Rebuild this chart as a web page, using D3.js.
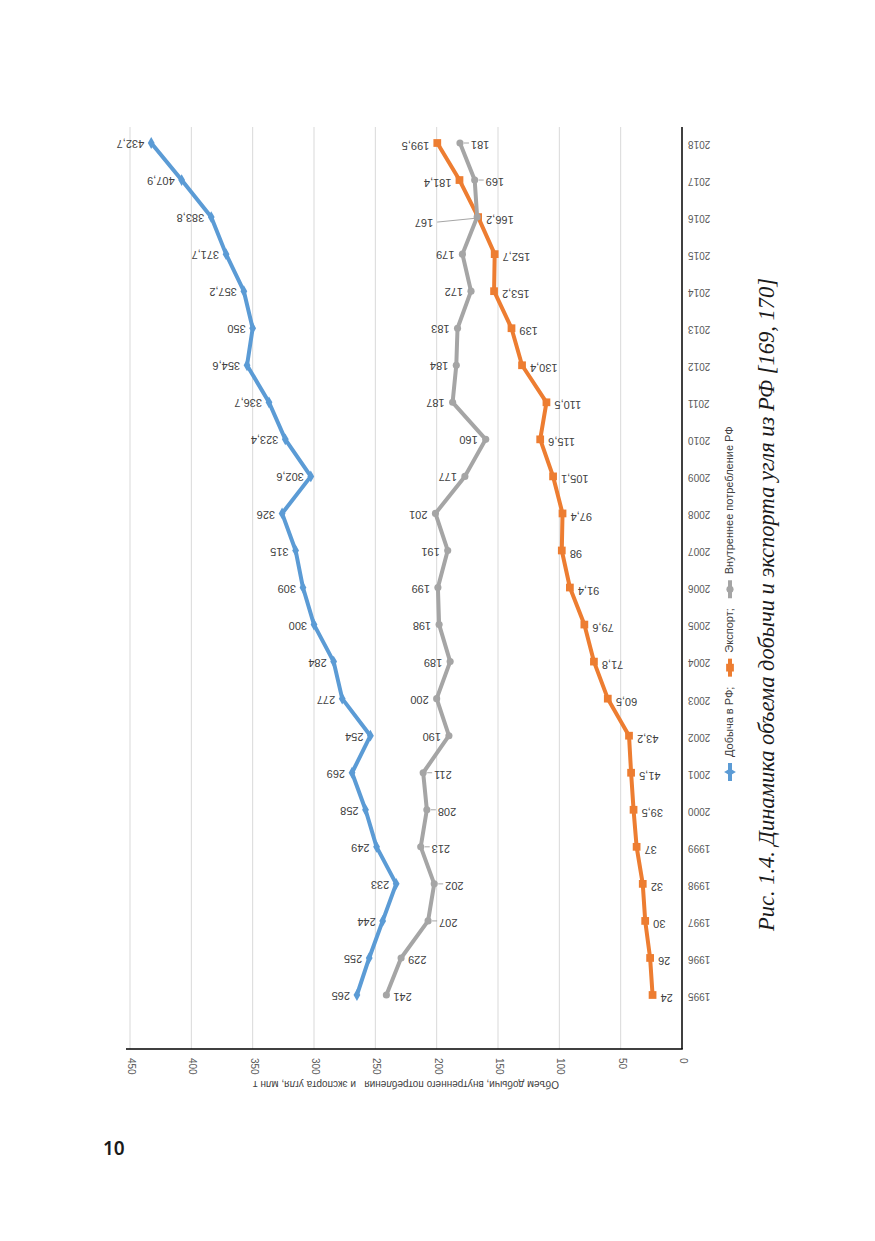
<!DOCTYPE html>
<html>
<head>
<meta charset="utf-8">
<script src="https://cdn.jsdelivr.net/npm/d3@7"></script>
<style>
  body { margin: 0; background: #fff; }
  svg { display: block; }
</style>
</head>
<body>
<div id="chart"></div>
<script>
// values (млн т)
const years = d3.range(1995, 2019);
const production = [265, 255, 244, 233, 249, 258, 269, 254, 277, 284, 300, 309, 315, 326, 302.6, 323.4, 336.7, 354.6, 350, 357.2, 371.7, 383.8, 407.9, 432.7];
const exportVals = [24, 26, 30, 32, 37, 39.5, 41.5, 43.2, 60.5, 71.8, 79.6, 91.4, 98, 97.4, 105.1, 115.6, 110.5, 130.4, 139, 153.2, 152.7, 166.2, 181.4, 199.5];
const domestic = [241, 229, 207, 202, 213, 208, 211, 190, 200, 189, 198, 199, 191, 201, 177, 160, 187, 184, 183, 172, 179, 167, 169, 181];
const valueTicks = [0, 50, 100, 150, 200, 250, 300, 350, 400, 450];

const seriesNames = ["Добыча в РФ;", "Экспорт;", "Внутреннее потребление РФ"];
const axisTitle = "Объем добычи, внутреннего потребления   и экспорта угля, млн т";
const caption = "Рис. 1.4. Динамика объема добычи и экспорта угля из РФ [169, 170]";

// label placement (which side of the point, in the rotated picture)
const exportLeftYears = [2017, 2018];
const domesticRightYears = [1995, 1996, 1997, 1998, 1999, 2000, 2001, 2017, 2018];
const domesticFarYear = 2016;

const W = 875, H = 1241;
const svg = d3.select("#chart").append("svg")
  .attr("width", W).attr("height", H)
  .style("font-family", "'Liberation Sans', Arial, sans-serif");

svg.append("rect").attr("width", W).attr("height", H).attr("fill", "#fff");

// the chart is printed turned a quarter turn: values run right -> left, years bottom -> top
const plot = { left: 130, right: 682, top: 127, bottom: 1049 };
const x = d3.scaleLinear().domain([0, 450]).range([plot.right, plot.left]);
const y = d3.scalePoint().domain(years).range([995, 143]);

const fmt = v => String(v).replace(".", ",");

// grid
svg.append("g").selectAll("line")
  .data(valueTicks.filter(t => t > 0))
  .join("line")
  .attr("x1", d => x(d)).attr("x2", d => x(d))
  .attr("y1", plot.top).attr("y2", plot.bottom)
  .attr("stroke", "#d9d9d9").attr("stroke-width", 1);

// value axis (bottom of picture)
const gx = svg.append("g")
  .attr("transform", "translate(0," + plot.bottom + ")")
  .call(d3.axisBottom(x).tickValues(valueTicks).tickSize(0));
gx.select(".domain").remove();
gx.selectAll("text")
  .attr("y", 0).attr("dy", null)
  .attr("transform", "translate(0,9) rotate(90)")
  .attr("text-anchor", "start")
  .attr("dominant-baseline", "middle")
  .attr("fill", "#595959")
  .style("font-size", "10px");

svg.append("text")
  .attr("transform", "translate(406,1084) rotate(180)")
  .attr("text-anchor", "middle")
  .attr("dominant-baseline", "middle")
  .attr("fill", "#404040")
  .style("font-size", "10px")
  .style("white-space", "pre")
  .attr("xml:space", "preserve")
  .text(axisTitle);

// year axis (right of picture)
const gy = svg.append("g")
  .attr("transform", "translate(" + plot.right + ",0)")
  .call(d3.axisRight(y).tickSize(0));
gy.select(".domain").remove();
gy.selectAll("text")
  .attr("x", 0).attr("dy", null)
  .attr("transform", "translate(6,0) rotate(180)")
  .attr("text-anchor", "end")
  .attr("dominant-baseline", "middle")
  .attr("fill", "#595959")
  .style("font-size", "10px");

// axis lines
svg.append("line")
  .attr("x1", plot.left - 4).attr("x2", plot.right + 0.75)
  .attr("y1", plot.bottom).attr("y2", plot.bottom)
  .attr("stroke", "#000").attr("stroke-width", 1.5);
svg.append("line")
  .attr("x1", plot.right).attr("x2", plot.right)
  .attr("y1", plot.top).attr("y2", plot.bottom)
  .attr("stroke", "#000").attr("stroke-width", 1.5);

const series = [
  { name: seriesNames[0], values: production, color: "#5b9bd5", symbol: d3.symbolDiamond, size: 40 },
  { name: seriesNames[1], values: exportVals, color: "#ed7d31", symbol: d3.symbolSquare, size: 60 },
  { name: seriesNames[2], values: domestic, color: "#a5a5a5", symbol: d3.symbolCircle, size: 40 }
];

const line = d3.line().x(d => x(d.v)).y(d => y(d.year));

series.forEach(s => {
  const pts = years.map((year, i) => ({ year, v: s.values[i] }));
  svg.append("path")
    .datum(pts)
    .attr("d", line)
    .attr("fill", "none")
    .attr("stroke", s.color)
    .attr("stroke-width", 4)
    .attr("stroke-linejoin", "round")
    .attr("stroke-linecap", "round");
  svg.append("g").selectAll("path")
    .data(pts)
    .join("path")
    .attr("transform", d => "translate(" + x(d.v) + "," + y(d.year) + ")")
    .attr("d", d3.symbol().type(s.symbol).size(s.size))
    .attr("fill", s.color);
  s.pts = pts;
});

// data labels, printed upside down
const labels = svg.append("g")
  .attr("fill", "#404040")
  .style("font-size", "11px");

function addLabel(px, py, text, side, gap) {
  // side 'left' -> text sits left of point, 'right' -> right of point
  const tx = side === "left" ? px - gap : px + gap;
  labels.append("text")
    .attr("transform", "translate(" + tx + "," + py + ") rotate(180)")
    .attr("text-anchor", side === "left" ? "start" : "end")
    .attr("dominant-baseline", "middle")
    .text(text);
}

series[0].pts.forEach(d => addLabel(x(d.v), y(d.year), fmt(d.v), "left", 7));

series[1].pts.forEach(d => {
  const side = exportLeftYears.includes(d.year) ? "left" : "right";
  addLabel(x(d.v), y(d.year) + 2, fmt(d.v), side, 8);
});

series[2].pts.forEach(d => {
  const px = x(d.v), py = y(d.year);
  if (d.year === domesticFarYear) {
    labels.append("line")
      .attr("x1", px).attr("y1", py + 1)
      .attr("x2", px - 40).attr("y2", py + 5)
      .attr("stroke", "#a6a6a6").attr("stroke-width", 1);
    addLabel(px - 44, py + 5, fmt(d.v), "left", 0);
  } else if (domesticRightYears.includes(d.year)) {
    const lead = d.year > 1996;
    if (lead) {
      labels.append("line")
        .attr("x1", px + 4).attr("x2", px + 9)
        .attr("y1", py).attr("y2", py)
        .attr("stroke", "#a6a6a6").attr("stroke-width", 1);
    }
    addLabel(px, py + 1, fmt(d.v), "right", lead ? 11 : 7);
  } else {
    addLabel(px, py, fmt(d.v), "left", 8);
  }
});

// legend, turned with the chart
const legend = svg.append("g")
  .attr("transform", "translate(730,781) rotate(-90)")
  .style("font-size", "11px");
let u = 0;
series.forEach(s => {
  const item = legend.append("g").attr("transform", "translate(" + u + ",0)");
  item.append("line")
    .attr("x1", 0).attr("x2", 18).attr("y1", 0).attr("y2", 0)
    .attr("stroke", s.color).attr("stroke-width", 4);
  item.append("path")
    .attr("transform", "translate(9,0)")
    .attr("d", d3.symbol().type(s.symbol).size(s.size))
    .attr("fill", s.color);
  const t = item.append("text")
    .attr("x", 24)
    .attr("dominant-baseline", "middle")
    .attr("fill", "#404040")
    .text(s.name);
  u += 24 + t.node().getComputedTextLength() + 10;
});

// figure caption
svg.append("text")
  .attr("transform", "translate(774,931) rotate(-90)")
  .attr("text-anchor", "start")
  .style("font-family", "'Liberation Serif', 'Times New Roman', serif")
  .style("font-style", "italic")
  .style("font-size", "22.5px")
  .attr("fill", "#1a1a1a")
  .text(caption);

// page number
svg.append("text")
  .attr("x", 103).attr("y", 1155)
  .style("font-family", "'Noto Sans', sans-serif")
  .style("font-size", "19px")
  .style("font-weight", 600)
  .attr("fill", "#1a1a1a")
  .text("10");
</script>
</body>
</html>
